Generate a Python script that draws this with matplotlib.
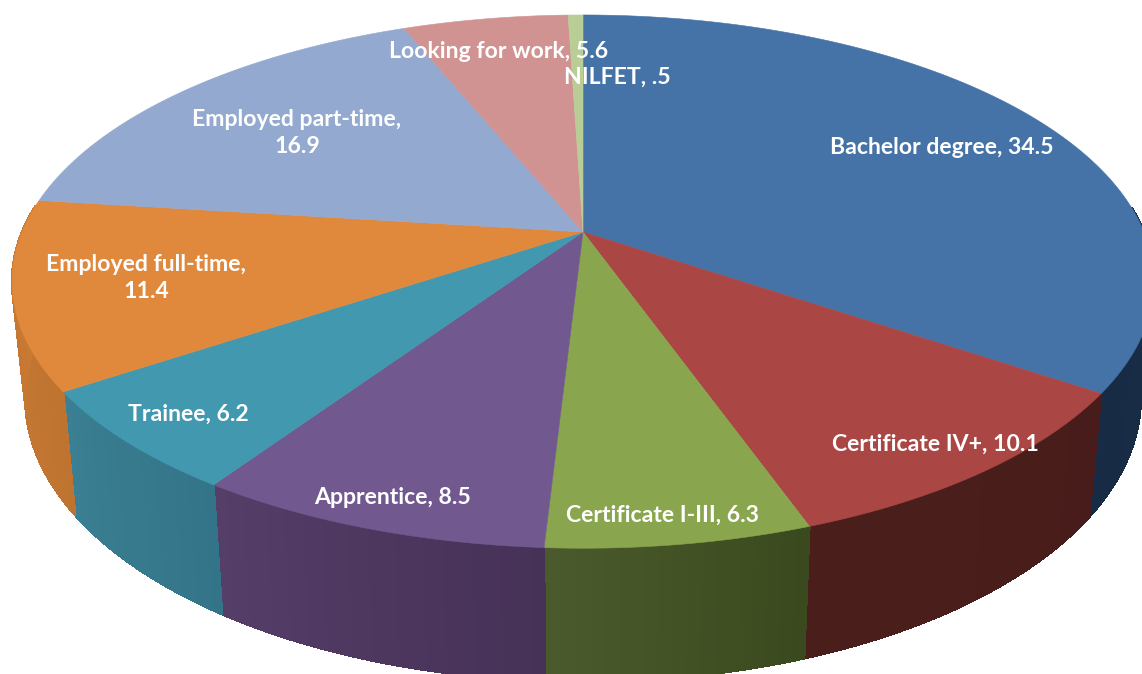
import matplotlib
matplotlib.use("Agg")
import matplotlib.pyplot as plt
from matplotlib.colors import to_rgb
import numpy as np

categories = ["Bachelor degree", "Certificate IV+", "Certificate I-III", "Apprentice",
              "Trainee", "Employed full-time", "Employed part-time",
              "Looking for work", "NILFET"]
values = [34.5, 10.1, 6.3, 8.5, 6.2, 11.4, 16.9, 5.6, 0.5]
value_labels = ["34.5", "10.1", "6.3", "8.5", "6.2", "11.4", "16.9", "5.6", ".5"]

TOP_COLORS = ["#4573A7", "#AA4644", "#89A54E", "#71588F", "#4198AF",
              "#E0883C", "#93A9CF", "#D19392", "#B9CD96"]
# wall colour at the start and end of each slice
WALL_COLORS = [("#1B3350", "#182B45"), ("#481C1A", "#4A1F1B"), ("#3A4A1E", "#4B5A2C"),
               ("#463157", "#553E68"), ("#347488", "#3A7F93"), ("#BE7430", "#CB7B35"),
               ("#7F92B4", "#7F92B4"), ("#B58080", "#B58080"), ("#A0B282", "#A0B282")]

# label centres in pixels, second line goes below with "\n"
LABEL_POS = [(942, 147), (935, 444), (662, 515), (393, 498), (188, 414),
             (146, 278), (297, 133), (499, 51), (617, 77)]
LABEL_BREAK = [False, False, False, False, False, True, True, False, False]

# perspective circle: top face and bottom face of the disc
CX = 583
P = 0.186
TOP = dict(cy=232, a=257.4, b=561)
BOT = dict(cy=345, a=274, b=548)


def project(theta, face):
    d = 1 + P * np.cos(theta)
    return CX + face["b"] * np.sin(theta) / d, face["cy"] - face["a"] * np.cos(theta) / d


fig = plt.figure(figsize=(11.42, 6.74), dpi=100)
ax = fig.add_axes([0, 0, 1, 1])
ax.set_xlim(0, 1142)
ax.set_ylim(674, 0)
ax.axis("off")

edges = np.radians(np.concatenate([[0], np.cumsum(values)]) * 3.6)

# walls first, as narrow strips so the shade can drift along a slice
for i in range(len(values)):
    c0, c1 = (np.array(to_rgb(c)) for c in WALL_COLORS[i])
    th = np.linspace(edges[i], edges[i + 1], max(int(values[i] * 6), 4))
    for j in range(len(th) - 1):
        # back half of the rim is hidden, it would only peek out round the top face
        if np.cos(th[j]) > 0.1:
            continue
        x1, y1 = project(th[j:j + 2], TOP)
        x2, y2 = project(th[j:j + 2][::-1], BOT)
        col = c0 + (c1 - c0) * j / (len(th) - 2)
        # no antialiasing here, otherwise the strip joins show up as stripes
        ax.fill(np.r_[x1, x2], np.r_[y1, y2], color=col, lw=1, antialiased=False, zorder=1)

# top face
for i in range(len(values)):
    th = np.linspace(edges[i], edges[i + 1], max(int(values[i] * 8), 4))
    x, y = project(th, TOP)
    ax.fill(np.r_[CX, x], np.r_[TOP["cy"], y], color=TOP_COLORS[i], lw=0.4, zorder=2)

for name, val, pos, brk in zip(categories, value_labels, LABEL_POS, LABEL_BREAK):
    sep = ",\n" if brk else ", "
    ax.text(pos[0], pos[1], name + sep + val, color="white", fontsize=16.6,
            family="Lato", fontweight="bold", ha="center", va="center",
            linespacing=1.3, zorder=3)

fig.savefig("out.png", dpi=100)
